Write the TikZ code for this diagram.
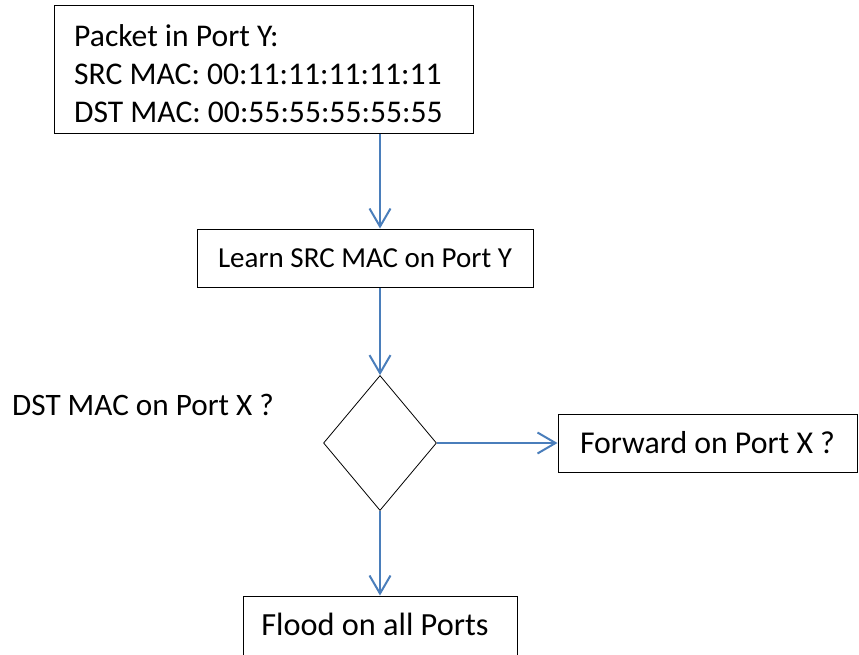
\documentclass[tikz,border=0pt]{standalone}
\usepackage{fontspec}
\setmainfont{Carlito}
\usetikzlibrary{arrows.meta,shapes.geometric}
\definecolor{flowblue}{RGB}{74,126,187}
\begin{document}
\begin{tikzpicture}[x=1pt,y=-1pt,
  box/.style={draw=black,line width=1pt,rectangle,inner sep=0pt,
    font=\fontsize{31.8}{38}\selectfont},
  flow/.style={draw=flowblue,line width=2pt,
    -{Straight Barb[length=18pt,width=21pt,line width=2pt]}},
  lbl/.style={font=\fontsize{31.6}{38}\selectfont,inner sep=0pt,anchor=base west}]
\useasboundingbox (0,0) rectangle (859,654);
\fill[white] (0,0) rectangle (859,654);
\clip (0,0) rectangle (859,654);

% incoming packet
\node[box,minimum width=419pt,minimum height=128pt] (pkt) at (263.5,69) {};
\node[lbl] (pkt1) at (74,46) {Packet in Port Y:};
\node[lbl] (pkt2) at (74,84) {SRC MAC: 00:11:11:11:11:11};
\node[lbl] (pkt3) at (74,122) {DST MAC: 00:55:55:55:55:55};

% learning step
\node[box,font=\fontsize{29}{35}\selectfont,minimum width=336pt,minimum height=58pt] (learn) at (365,258) {Learn SRC MAC on Port Y};

% decision
\node[draw=black,line width=0.8pt,diamond,inner sep=0pt,
  minimum width=113pt,minimum height=135pt] (dec) at (380,443) {};
\node[lbl,font=\fontsize{31.2}{37}\selectfont] (q) at (12,415) {DST MAC on Port X ?};

% outcomes
\node[box,minimum width=299pt,minimum height=58pt] (fwd) at (707.5,443) {Forward on Port X ?};
\node[box,minimum width=274pt,minimum height=70pt] (flood) at (380,631) {};
\node[lbl,font=\fontsize{32.3}{38}\selectfont,anchor=base] (floodtxt) at (375,635) {Flood on all Ports};

% connectors
\draw[flow] (pkt.south -| dec.north) -- (learn.north -| dec.north);
\draw[flow] (learn.south -| dec.north) -- (dec.north);
\draw[flow] (dec.east) -- (fwd.west);
\draw[flow] (dec.south) -- (flood.north);
\end{tikzpicture}
\end{document}
